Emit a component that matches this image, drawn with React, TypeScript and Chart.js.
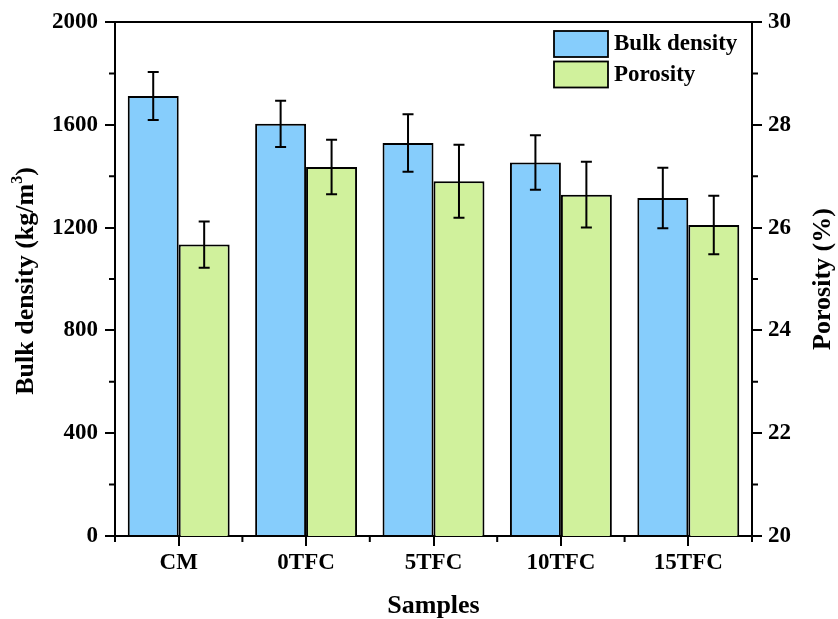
import { useEffect, useRef } from "react";
import { Chart, registerables } from "chart.js";

Chart.register(...registerables);

// Sample groups and measured values
const samples = ["CM", "0TFC", "5TFC", "10TFC", "15TFC"];
const bulkDensity = [1712, 1604, 1529, 1453, 1315];
const bulkDensityErr = [93, 90, 112, 106, 118];
const porosity = [25.67, 27.18, 26.9, 26.64, 26.05];
const porosityErr = [0.45, 0.53, 0.71, 0.64, 0.57];

// Axis tick values
const densityTicks = [0, 400, 800, 1200, 1600, 2000];
const densityMinorTicks = [200, 600, 1000, 1400, 1800];
const porosityTicks = [20, 22, 24, 26, 28, 30];
const porosityMinorTicks = [21, 23, 25, 27, 29];

const legendLabels = ["Bulk density", "Porosity"];
const BLUE = "#86CDFC";
const GREEN = "#D0F19C";
const FONT = '"Liberation Serif", "Times New Roman", serif';

const decorations = {
  id: "decorations",
  afterDatasetsDraw(chart: any) {
    const ctx = chart.ctx;
    const errs = [bulkDensityErr, porosityErr];
    ctx.save();
    ctx.strokeStyle = "#000";
    ctx.lineWidth = 2;
    chart.data.datasets.forEach((ds: any, di: number) => {
      const meta = chart.getDatasetMeta(di);
      const scale = chart.scales[meta.yAxisID];
      meta.data.forEach((bar: any, i: number) => {
        const v = ds.data[i];
        const e = errs[di][i];
        const x = bar.x;
        const yHi = scale.getPixelForValue(v + e);
        const yLo = scale.getPixelForValue(v - e);
        const cap = 5.5;
        ctx.beginPath();
        ctx.moveTo(x, yHi);
        ctx.lineTo(x, yLo);
        ctx.moveTo(x - cap, yHi);
        ctx.lineTo(x + cap, yHi);
        ctx.moveTo(x - cap, yLo);
        ctx.lineTo(x + cap, yLo);
        ctx.stroke();
      });
    });
    ctx.restore();
  },
  afterDraw(chart: any) {
    const ctx = chart.ctx;
    const { left, right, top, bottom } = chart.chartArea;
    const yL = chart.scales.y;
    const yR = chart.scales.y1;
    ctx.save();
    ctx.strokeStyle = "#000";
    ctx.lineWidth = 2;

    // top frame line
    ctx.beginPath();
    ctx.moveTo(left - 1, top);
    ctx.lineTo(right + 1, top);
    ctx.stroke();

    // minor ticks
    ctx.beginPath();
    densityMinorTicks.forEach((v) => {
      const y = yL.getPixelForValue(v);
      ctx.moveTo(left - 6, y);
      ctx.lineTo(left, y);
    });
    porosityMinorTicks.forEach((v) => {
      const y = yR.getPixelForValue(v);
      ctx.moveTo(right, y);
      ctx.lineTo(right + 6, y);
    });
    for (let i = 0; i <= samples.length; i++) {
      const x = left + (i * (right - left)) / samples.length;
      ctx.moveTo(x, bottom);
      ctx.lineTo(x, bottom + 6);
    }
    ctx.stroke();

    // axis titles
    ctx.fillStyle = "#000";
    ctx.textBaseline = "alphabetic";
    const titleFont = `bold 26px ${FONT}`;
    const supFont = `bold 16px ${FONT}`;

    // left title with superscript
    ctx.save();
    ctx.translate(24, (top + bottom) / 2 + 2);
    ctx.rotate(-Math.PI / 2);
    ctx.font = titleFont;
    const partA = "Bulk density (kg/m";
    const partC = ")";
    const wA = ctx.measureText(partA).width;
    const wC = ctx.measureText(partC).width;
    ctx.font = supFont;
    const wB = ctx.measureText("3").width;
    const x0 = -(wA + wB + wC) / 2;
    ctx.font = titleFont;
    ctx.fillText(partA, x0, 9);
    ctx.font = supFont;
    ctx.fillText("3", x0 + wA, -2);
    ctx.font = titleFont;
    ctx.fillText(partC, x0 + wA + wB, 9);
    ctx.restore();

    // right title
    ctx.save();
    ctx.translate(821, (top + bottom) / 2);
    ctx.rotate(-Math.PI / 2);
    ctx.font = titleFont;
    ctx.textAlign = "center";
    ctx.fillText("Porosity (%)", 0, 9);
    ctx.restore();

    // bottom title
    ctx.font = titleFont;
    ctx.textAlign = "center";
    ctx.fillText("Samples", (left + right) / 2, 613);

    // legend
    const colors = [BLUE, GREEN];
    ctx.lineWidth = 1.8;
    ctx.textAlign = "left";
    ctx.textBaseline = "middle";
    ctx.font = `bold 23px ${FONT}`;
    legendLabels.forEach((label, i) => {
      const bx = 554;
      const by = 31 + i * 30.5;
      ctx.fillStyle = colors[i];
      ctx.fillRect(bx, by, 54, 26);
      ctx.strokeRect(bx, by, 54, 26);
      ctx.fillStyle = "#000";
      ctx.fillText(label, 614, by + 13.5);
    });
    ctx.restore();
  },
};

export default function App() {
  const canvasRef = useRef<HTMLCanvasElement | null>(null);

  useEffect(() => {
    if (!canvasRef.current) return;
    const tickFont = { family: FONT, size: 23, weight: "bold" as const, lineHeight: 1.2 };
    const plainLabel = (v: any) => String(v);
    const chart = new Chart(canvasRef.current, {
      type: "bar",
      data: {
        labels: samples,
        datasets: [
          {
            label: legendLabels[0],
            data: bulkDensity,
            yAxisID: "y",
            backgroundColor: BLUE,
            borderColor: "#000",
            borderWidth: 2,
            barPercentage: 1,
            categoryPercentage: 0.8,
          },
          {
            label: legendLabels[1],
            data: porosity,
            yAxisID: "y1",
            backgroundColor: GREEN,
            borderColor: "#000",
            borderWidth: 2,
            barPercentage: 1,
            categoryPercentage: 0.8,
          },
        ],
      },
      options: {
        animation: false,
        responsive: true,
        maintainAspectRatio: false,
        layout: { padding: { top: 22, left: 0, right: 0, bottom: 0 } },
        plugins: {
          legend: { display: false },
          tooltip: { enabled: false },
          title: { display: false },
        },
        scales: {
          x: {
            offset: true,
            grid: {
              offset: false,
              drawOnChartArea: false,
              drawTicks: true,
              tickLength: 10,
              color: "#000",
              lineWidth: 2,
            },
            border: { display: true, color: "#000", width: 2 },
            ticks: { color: "#000", font: tickFont, padding: 3, maxRotation: 0 },
            afterFit: (s: any) => {
              s.height = 83;
            },
          },
          y: {
            position: "left",
            min: 0,
            max: 2000,
            afterBuildTicks: (s: any) => {
              s.ticks = densityTicks.map((v) => ({ value: v }));
            },
            grid: {
              drawOnChartArea: false,
              drawTicks: true,
              tickLength: 10,
              color: "#000",
              lineWidth: 2,
            },
            border: { display: true, color: "#000", width: 2 },
            ticks: { color: "#000", font: tickFont, padding: 7, callback: plainLabel },
            afterFit: (s: any) => {
              s.width = 115;
            },
          },
          y1: {
            position: "right",
            min: 20,
            max: 30,
            afterBuildTicks: (s: any) => {
              s.ticks = porosityTicks.map((v) => ({ value: v }));
            },
            grid: {
              drawOnChartArea: false,
              drawTicks: true,
              tickLength: 10,
              color: "#000",
              lineWidth: 2,
            },
            border: { display: true, color: "#000", width: 2 },
            ticks: { color: "#000", font: tickFont, padding: 6, callback: plainLabel },
            afterFit: (s: any) => {
              s.width = 86;
            },
          },
        },
      },
      plugins: [decorations],
    });
    return () => chart.destroy();
  }, []);

  return (
    <div style={{ position: "absolute", left: 0, top: 0, width: 838, height: 619, background: "#fff" }}>
      <canvas ref={canvasRef} />
    </div>
  );
}
